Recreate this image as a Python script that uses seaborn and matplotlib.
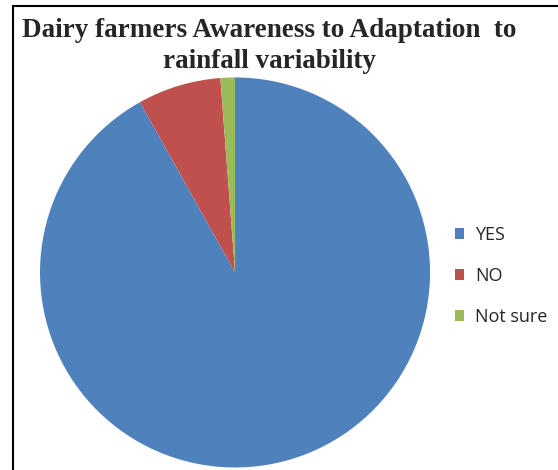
import matplotlib
matplotlib.use("Agg")
import matplotlib.pyplot as plt
import seaborn as sns
from matplotlib.lines import Line2D
from matplotlib.patches import Patch

sns.set_theme(style="white")

# data (percent of farmers)
labels = ["YES", "NO", "Not sure"]
shares = [91.9, 6.9, 1.2]
colors = ["#4F81BD", "#C0504D", "#9BBB59"]

fig = plt.figure(figsize=(5.58, 4.70), dpi=100)
ax = fig.add_axes([0.0717, 0.0053, 0.699, 0.830])

ax.pie(shares, colors=colors, startangle=90, counterclock=False,
       wedgeprops=dict(linewidth=0, edgecolor="white"))
ax.set_xlim(-1, 1)
ax.set_ylim(-1, 1)
ax.set_aspect("equal")

fig.text(0.483, 0.903, "Dairy farmers Awareness to Adaptation  to\nrainfall variability",
         ha="center", va="center", fontsize=19.5, fontweight="bold",
         family="Liberation Serif", linespacing=1.32)

handles = [Patch(facecolor=c, edgecolor="none") for c in colors]
leg = fig.legend(handles, labels, loc="center left", bbox_to_anchor=(0.787, 0.413),
                 frameon=False, handlelength=0.5, handleheight=0.5,
                 handletextpad=0.6, labelspacing=1.27,
                 prop={"family": "Open Sans", "size": 13})

# chart frame (partly cut off like in the original)
fig.add_artist(Line2D([13 / 558, 1.0], [1 - 6 / 470, 1 - 6 / 470],
                      transform=fig.transFigure, color="black", lw=1.5))
fig.add_artist(Line2D([13 / 558, 13 / 558], [1 - 6 / 470, 0.0],
                      transform=fig.transFigure, color="black", lw=1.5))

fig.savefig("out.png", dpi=100)
